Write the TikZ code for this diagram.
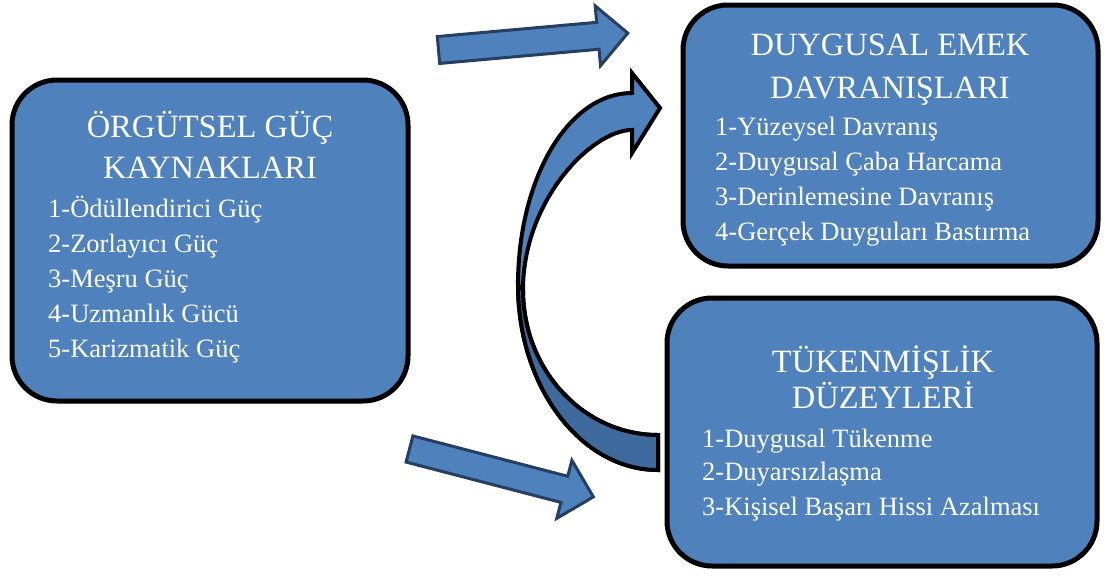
\documentclass[tikz,border=0pt]{standalone}
\usepackage{fontspec}
\setmainfont{Liberation Serif}
\usetikzlibrary{positioning}

\definecolor{boxblue}{HTML}{4F81BD}
\definecolor{backblue}{HTML}{3F6A9E}
\definecolor{edgenavy}{HTML}{243F60}

\tikzset{
  panel/.style={draw=black, line width=5pt, fill=boxblue, rounded corners=45pt,
    inner sep=0pt, outer sep=0pt, anchor=north west},
  heading/.style={text=white, align=center, anchor=base, inner sep=0pt},
  entry/.style={text=white, anchor=base west, inner sep=0pt,
    font=\fontsize{26.5}{30}\selectfont},
  blockarrow/.style={draw=edgenavy, line width=3pt, fill=boxblue, line join=miter},
  bentarrow/.style={draw=black, line width=4pt, line join=miter}
}

\begin{document}
\begin{tikzpicture}[x=1pt, y=-1pt]
  \useasboundingbox (0,0) rectangle (1105,581);

  % the three boxes
  \node[panel, minimum width=396pt, minimum height=321pt] (sources) at (12,80) {};
  \node[panel, minimum width=415pt, minimum height=261pt] (labour) at (683,5) {};
  \node[panel, minimum width=430pt, minimum height=268pt] (burnout) at (667,298) {};

  \node[heading, font=\fontsize{32.5}{41}\selectfont] (sourcesT) at (210,178)
    {ÖRGÜTSEL GÜÇ\\KAYNAKLARI};
  \foreach \y/\txt in {217/1-Ödüllendirici Güç, 252/2-Zorlayıcı Güç,
      287/3-Meşru Güç, 322/4-Uzmanlık Gücü, 357/5-Karizmatik Güç} {
    \node[entry] (src\y) at (48,\y) {\txt};
  }

  \node[heading, font=\fontsize{32.5}{43}\selectfont] (labourT) at (890,98)
    {DUYGUSAL EMEK\\DAVRANIŞLARI};
  \foreach \y/\txt in {135/1-Yüzeysel Davranış, 170/2-Duygusal Çaba Harcama,
      205/3-Derinlemesine Davranış, 240/4-Gerçek Duyguları Bastırma} {
    \node[entry] (lab\y) at (715,\y) {\txt};
  }

  \node[heading, font=\fontsize{32.5}{36}\selectfont] (burnoutT) at (883,408)
    {TÜKENMİŞLİK\\DÜZEYLERİ};
  \foreach \y/\txt in {447/1-Duygusal Tükenme, 480/2-Duyarsızlaşma,
      515/3-Kişisel Başarı Hissi Azalması} {
    \node[entry] (bur\y) at (702,\y) {\txt};
  }

  % straight arrows
  \foreach \px/\py/\ang in {438.5/50/5.1, 409.5/449/-14.6} {
    \begin{scope}[shift={(\px,\py)}, rotate=\ang]
      \draw[blockarrow] (0,-13.5) -- (160,-13.5) -- (160,-30) -- (190,0)
        -- (160,30) -- (160,13.5) -- (0,13.5) -- cycle;
    \end{scope}
  }

  % curved arrow from burnout back to labour
  \draw[bentarrow, fill=boxblue]
    (658,470) .. controls (581,470) and (518,387) .. (518,285)
    .. controls (518,179) and (568,93) .. (632,93)
    -- (632,73) -- (660,108) -- (632,153) -- (632,130)
    .. controls (592,130) and (523,200) .. (523,290)
    .. controls (523,370) and (583.5,435) .. (658,435) -- cycle;
  \draw[bentarrow, fill=backblue]
    (658,470) .. controls (581,470) and (518,387) .. (518,285)
    -- (523,290) .. controls (523,370) and (583.5,435) .. (658,435) -- cycle;
\end{tikzpicture}
\end{document}
